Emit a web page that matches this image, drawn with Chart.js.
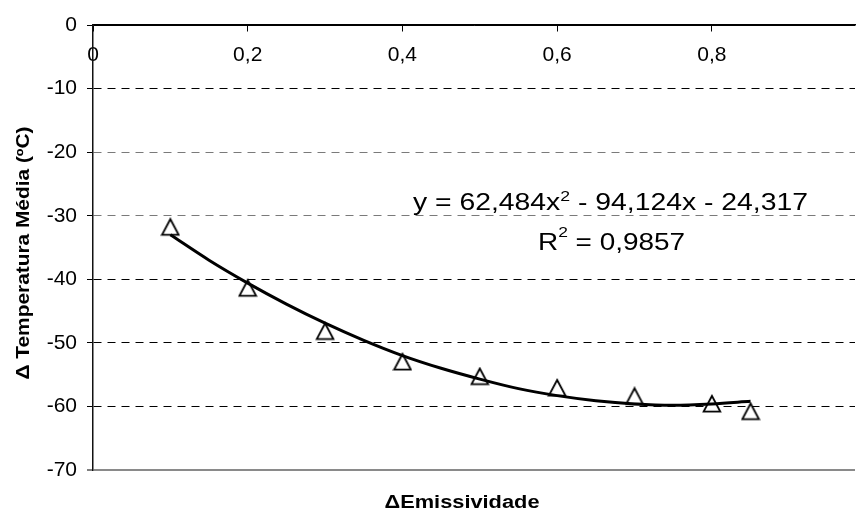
<!DOCTYPE html>
<html>
<head>
<meta charset="utf-8">
<script src="https://cdn.jsdelivr.net/npm/chart.js@4.4.1/dist/chart.umd.min.js"></script>
<style>
html,body{margin:0;padding:0;background:#fff;overflow:hidden}
#wrap{width:865px;height:512px;position:relative}
</style>
</head>
<body>
<div id="wrap"><canvas id="c" width="865" height="512"></canvas></div>
<script>
// ---- data ----
const emissivity = [0.10, 0.20, 0.30, 0.40, 0.50, 0.60, 0.70, 0.80, 0.85];
const deltaTemp  = [-31.8, -41.4, -48.2, -53.0, -55.3, -57.1, -58.4, -59.6, -60.8];
const trendX = [0.10, 0.15, 0.20, 0.25, 0.30, 0.35, 0.40, 0.45, 0.50, 0.55, 0.60, 0.65, 0.70, 0.75, 0.80, 0.85];
const trendY = [-33.0, -37.0, -40.6, -43.9, -46.9, -49.6, -52.0, -54.0, -55.7, -57.2, -58.3, -59.1, -59.6, -59.8, -59.6, -59.2];
const xTickValues = [0, 0.2, 0.4, 0.6, 0.8];
const xTickLabels = ['0', '0,2', '0,4', '0,6', '0,8'];
const yTickValues = [0, -10, -20, -30, -40, -50, -60, -70];
const yTickLabels = ['0', '-10', '-20', '-30', '-40', '-50', '-60', '-70'];
const xTitle = 'ΔEmissividade';
const yTitle = 'Δ Temperatura Média (ºC)';
const eqParts = ['y = 62,484x', '2', ' - 94,124x - 24,317'];
const r2Parts = ['R', '2', ' = 0,9857'];

const FONT = '"Liberation Sans", Arial, sans-serif';
Chart.defaults.font.family = FONT;
Chart.defaults.color = '#000';

// open triangle marker
const tri = document.createElement('canvas');
tri.width = 20; tri.height = 20;
(function(){
  const t = tri.getContext('2d');
  t.lineWidth = 1.8; t.strokeStyle = '#000'; t.fillStyle = '#fff'; t.lineJoin = 'miter';
  t.beginPath(); t.moveTo(10, 2); t.lineTo(18.3, 17.6); t.lineTo(1.7, 17.6); t.closePath();
  t.fill(); t.stroke();
})();

function drawParts(ctx, parts, left, baseline, size, supSize, raise, targetWidth) {
  ctx.save();
  ctx.fillStyle = '#000';
  ctx.textBaseline = 'alphabetic';
  ctx.textAlign = 'left';
  ctx.font = size + 'px ' + FONT;
  const w0 = ctx.measureText(parts[0]).width;
  const w2 = ctx.measureText(parts[2]).width;
  ctx.font = supSize + 'px ' + FONT;
  const w1 = ctx.measureText(parts[1]).width;
  const sx = targetWidth / (w0 + w1 + w2);
  ctx.translate(left, baseline);
  ctx.scale(sx, 1);
  ctx.font = size + 'px ' + FONT;
  ctx.fillText(parts[0], 0, 0);
  ctx.fillText(parts[2], w0 + w1, 0);
  ctx.font = supSize + 'px ' + FONT;
  ctx.fillText(parts[1], w0, -raise);
  ctx.restore();
}

const textPlugin = {
  id: 'texts',
  afterDraw(chart) {
    const ctx = chart.ctx;
    // trendline equation
    drawParts(ctx, eqParts, 413, 210, 24, 15, 9, 395);
    drawParts(ctx, r2Parts, 538, 249.5, 24, 15, 13, 147);
    // axis titles
    ctx.save();
    ctx.fillStyle = '#000';
    ctx.font = 'bold 18px ' + FONT;
    ctx.textAlign = 'center';
    ctx.textBaseline = 'middle';
    let w = ctx.measureText(xTitle).width;
    ctx.translate(462, 503);
    ctx.scale(155 / w, 1);
    ctx.fillText(xTitle, 0, 0);
    ctx.restore();
    ctx.save();
    ctx.fillStyle = '#000';
    ctx.font = 'bold 18px ' + FONT;
    ctx.textAlign = 'center';
    ctx.textBaseline = 'middle';
    w = ctx.measureText(yTitle).width;
    ctx.translate(24, 253);
    ctx.rotate(-Math.PI / 2);
    ctx.scale(253 / w, 1);
    ctx.fillText(yTitle, 0, 0);
    ctx.restore();
  }
};

new Chart(document.getElementById('c'), {
  type: 'scatter',
  data: {
    datasets: [
      {
        label: 'Tendência',
        data: trendX.map((x, i) => ({x: x, y: trendY[i]})),
        showLine: true,
        borderColor: '#000',
        borderWidth: 3,
        pointRadius: 0,
        cubicInterpolationMode: 'monotone',
        fill: false,
        order: 0
      },
      {
        label: 'Dados',
        data: emissivity.map((x, i) => ({x: x, y: deltaTemp[i]})),
        showLine: false,
        pointStyle: tri,
        pointRadius: 9,
        order: 1
      }
    ]
  },
  options: {
    responsive: false,
    animation: false,
    layout: { padding: { left: 0, top: 25, right: 0, bottom: 42 } },
    plugins: { legend: { display: false }, tooltip: { enabled: false }, title: { display: false } },
    scales: {
      x: {
        type: 'linear',
        min: 0,
        max: 0.985,
        position: { y: 0 },
        afterBuildTicks: a => { a.ticks = xTickValues.map(v => ({value: v})); },
        ticks: {
          autoSkip: false, maxRotation: 0, padding: 12,
          font: { size: 21 }, color: '#000',
          callback: (v, i) => xTickLabels[i]
        },
        grid: { drawOnChartArea: false, drawTicks: true, tickLength: 6, tickColor: '#000', tickWidth: 1 },
        border: { display: true, color: '#000', width: 1.5 }
      },
      y: {
        type: 'linear',
        min: -70,
        max: 0,
        position: 'left',
        afterBuildTicks: a => { a.ticks = yTickValues.map(v => ({value: v})); },
        afterFit: s => { s.width = 93; },
        ticks: {
          padding: 10, font: { size: 21 }, color: '#000',
          callback: (v, i) => yTickLabels[i]
        },
        grid: {
          color: c => {
            const v = c.tick ? c.tick.value : null;
            if (v === -70) return '#8a8a8a';
            if (v === -20 || v === -30) return '#7a7a7a';
            return '#000';
          },
          lineWidth: c => (c.tick && c.tick.value === -70) ? 2 : 1,
          drawTicks: true, tickLength: 6, tickColor: '#000', tickWidth: 1
        },
        border: {
          display: true, color: '#111', width: 1.5,
          dash: c => (c.tick && c.tick.value < 0 && c.tick.value > -70) ? [8, 6] : []
        }
      }
    }
  },
  plugins: [textPlugin]
});
</script>
</body>
</html>
